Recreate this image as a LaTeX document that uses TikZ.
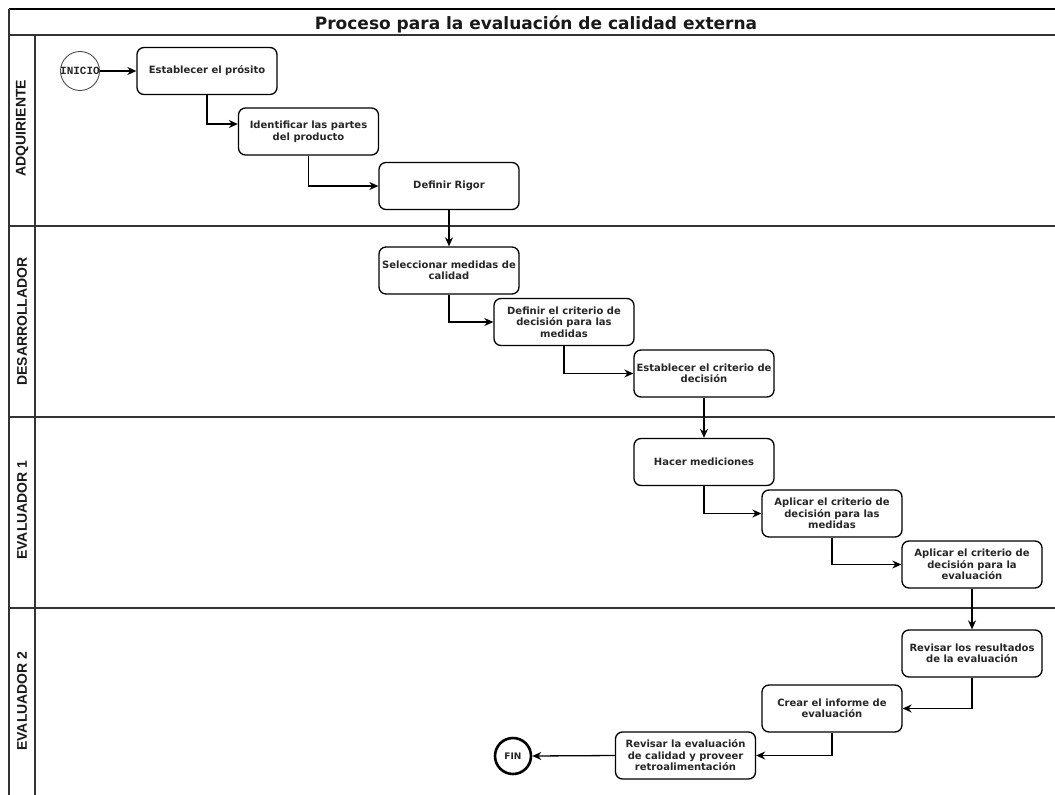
\documentclass[tikz,border=0pt]{standalone}
\usepackage{fontspec}
\setmainfont{DejaVu Sans}
\newfontfamily\lanefont{Liberation Sans}
\newfontfamily\startfont{Liberation Mono}
\usetikzlibrary{arrows.meta}

\begin{document}
\begin{tikzpicture}[x=1pt,y=-1pt,
  task/.style={draw=black, line width=1.3pt, rounded corners=7pt, fill=white,
    minimum width=140pt, minimum height=47pt, inner sep=0pt, align=center,
    font=\bfseries\fontsize{10}{11.5}\selectfont, text=black!85},
  flow/.style={draw=black, line width=1.3pt, -{Stealth[length=9pt,width=8pt]}},
  lane/.style={draw=black!80, line width=1.2pt},
  lanelabel/.style={rotate=90, font=\lanefont\bfseries\fontsize{14}{14}\selectfont, text=black!90}
]
\useasboundingbox (0,0) rectangle (1055,795);

% pool frame and lanes
\draw[line width=1.6pt] (9,9) -- (1062,9);
\draw[lane] (9,35) -- (1062,35);
\draw[lane] (9,9) -- (9,800);
\draw[lane] (35,35) -- (35,800);
\draw[lane] (9,226) -- (1062,226);
\draw[lane] (9,417) -- (1062,417);
\draw[lane] (9,608) -- (1062,608);

\node[anchor=base, font=\bfseries\fontsize{17}{17}\selectfont, text=black!90] (title) at (536,29)
  {Proceso para la evaluación de calidad externa};

\node[lanelabel] (lane1) at (22,128) {ADQUIRIENTE};
\node[lanelabel] (lane2) at (22,321.5) {DESARROLLADOR};
\node[lanelabel] (lane3) at (22,510) {EVALUADOR 1};
\node[lanelabel] (lane4) at (22,701) {EVALUADOR 2};

% events
\node[draw=black!70, line width=0.9pt, circle, minimum size=39pt, inner sep=0pt] (inicio) at (80,71) {};
\node[font=\startfont\bfseries\fontsize{11}{11}\selectfont, text=black!85] (iniciotext) at (inicio.center) {INICIO};
\node[draw=black, line width=2.6pt, circle, minimum size=36pt, inner sep=0pt,
  font=\bfseries\fontsize{9}{9}\selectfont, text=black!85] (fin) at (513,756) {FIN};

% tasks
\node[task] (estab)   at (207,71)     {Establecer el prósito};
\node[task] (ident)   at (308.5,131.5) {Identificar las partes\\del producto};
\node[task] (rigor)   at (449,186)    {Definir Rigor};
\node[task] (selec)   at (449,270.5)  {Seleccionar medidas de\\calidad};
\node[task] (defcrit) at (564,322)    {Definir el criterio de\\decisión para las\\medidas};
\node[task] (estcrit) at (704,373.5)  {Establecer el criterio de\\decisión};
\node[task] (hacer)   at (704,462)    {Hacer mediciones};
\node[task] (aplmed)  at (832,513.5)  {Aplicar el criterio de\\decisión para las\\medidas};
\node[task] (apleval) at (972,564.5)  {Aplicar el criterio de\\decisión para la\\evaluación};
\node[task] (revres)  at (972,653.5)  {Revisar los resultados\\de la evaluación};
\node[task] (crear)   at (832,708.5)  {Crear el informe de\\evaluación};
\node[task] (reveval) at (685.5,755.5) {Revisar la evaluación\\de calidad y proveer\\retroalimentación};

% sequence flows
\draw[flow] (inicio.east) -- (estab.west);
\draw[flow] (estab.south) |- ([yshift=7.5pt]ident.west);
\draw[flow] (ident.south) |- (rigor.west);
\draw[flow] (rigor.south) -- (selec.north);
\draw[flow] (selec.south) |- (defcrit.west);
\draw[flow] (defcrit.south) |- (estcrit.west);
\draw[flow] (estcrit.south) -- (hacer.north);
\draw[flow] (hacer.south) |- (aplmed.west);
\draw[flow] (aplmed.south) |- (apleval.west);
\draw[flow] (apleval.south) -- (revres.north);
\draw[flow] (revres.south) |- (crear.east);
\draw[flow] (crear.south) |- (reveval.east);
\draw[flow] (reveval.west) -- (fin.east);
\end{tikzpicture}
\end{document}
